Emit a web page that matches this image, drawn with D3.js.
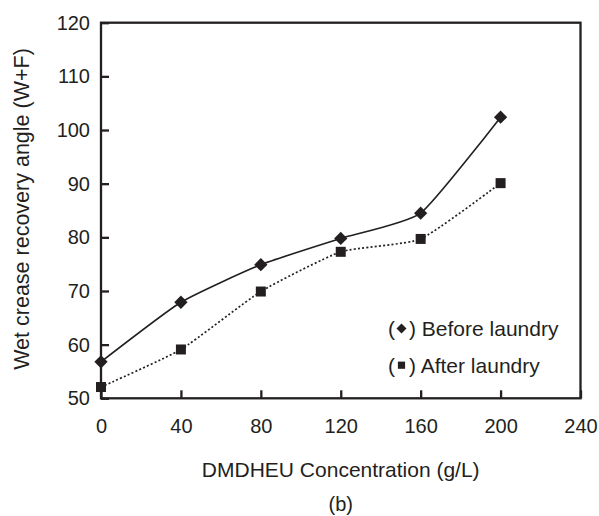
<!DOCTYPE html>
<html><head><meta charset="utf-8">
<script src="https://cdn.jsdelivr.net/npm/d3@7"></script>
<style>body{margin:0;background:#fff}svg{display:block}</style>
</head><body>
<svg id="c" width="599" height="516"></svg>
<script>
const concentration = [0, 40, 80, 120, 160, 200];
const beforeLaundry = [56.8, 67.9, 74.9, 79.8, 84.5, 102.4];
const afterLaundry  = [52.1, 59.1, 69.9, 77.3, 79.7, 90.1];
const xTicks = [0, 40, 80, 120, 160, 200, 240];
const yTicks = [50, 60, 70, 80, 90, 100, 110, 120];
const seriesNames = ["Before laundry", "After laundry"];

const ink = "#231f20";
const font = "'Liberation Sans', Arial, sans-serif";
const svg = d3.select("#c");
const L = 101, R = 580.5, T = 22.7, B = 398.3;
const x = d3.scaleLinear().domain([0, 240]).range([L, R]);
const y = d3.scaleLinear().domain([50, 120]).range([B, T]);

svg.append("rect").attr("x", L).attr("y", T).attr("width", R - L).attr("height", B - T)
  .attr("fill", "none").attr("stroke", ink).attr("stroke-width", 2.3);

const yAxis = svg.append("g").attr("transform", `translate(${L},0)`)
  .call(d3.axisLeft(y).tickValues(yTicks).tickSize(-8).tickPadding(11).tickFormat(d3.format("d")));
const xAxis = svg.append("g").attr("transform", `translate(0,${B})`)
  .call(d3.axisBottom(x).tickValues(xTicks).tickSize(-8).tickPadding(21).tickFormat(d3.format("d")));
[yAxis, xAxis].forEach(g => {
  g.select(".domain").remove();
  g.selectAll(".tick line").attr("stroke", ink).attr("stroke-width", 2.3);
  g.selectAll(".tick text").attr("fill", ink).style("font-family", font).style("font-size", "20px");
});

const line = d3.line().x((d, i) => x(concentration[i])).y(d => y(d)).curve(d3.curveCardinal.tension(0.5));
svg.append("path").datum(beforeLaundry).attr("d", line)
  .attr("fill", "none").attr("stroke", ink).attr("stroke-width", 1.6);
svg.append("path").datum(afterLaundry).attr("d", line)
  .attr("fill", "none").attr("stroke", ink).attr("stroke-width", 1.7).attr("stroke-dasharray", "2,2.2");

const diamond = d3.symbol().type(d3.symbolSquare).size(88);
const square = d3.symbol().type(d3.symbolSquare).size(100);
svg.append("g").selectAll("path").data(beforeLaundry).join("path")
  .attr("transform", (d, i) => `translate(${x(concentration[i])},${y(d)}) rotate(45)`)
  .attr("d", diamond).attr("fill", ink);
svg.append("g").selectAll("path").data(afterLaundry).join("path")
  .attr("transform", (d, i) => `translate(${x(concentration[i])},${y(d)})`)
  .attr("d", square).attr("fill", ink);

const legendY = [336, 372.7];
const legendSym = [d3.symbol().type(d3.symbolSquare).size(50), d3.symbol().type(d3.symbolSquare).size(52)];
seriesNames.forEach((name, i) => {
  const g = svg.append("g");
  g.append("text").attr("x", 388).attr("y", legendY[i]).text("(")
    .attr("fill", ink).style("font-family", font).style("font-size", "21px");
  g.append("path").attr("d", legendSym[i])
    .attr("transform", `translate(401.5,${legendY[i] - 7.5})${i === 0 ? " rotate(45)" : ""}`).attr("fill", ink);
  g.append("text").attr("x", 409).attr("y", legendY[i]).text(") " + name)
    .attr("fill", ink).style("font-family", font).style("font-size", "21px");
});

svg.append("text").attr("x", (L + R) / 2).attr("y", 476.7).attr("text-anchor", "middle")
  .text("DMDHEU Concentration (g/L)").attr("fill", ink).style("font-family", font).style("font-size", "21px");
svg.append("text").attr("x", (L + R) / 2).attr("y", 511).attr("text-anchor", "middle")
  .text("(b)").attr("fill", ink).style("font-family", font).style("font-size", "20px");
svg.append("text").attr("transform", `translate(29,${(50 + 368) / 2}) rotate(-90)`).attr("text-anchor", "middle")
  .text("Wet crease recovery angle (W+F)").attr("fill", ink).style("font-family", font).style("font-size", "21.5px");
</script>
</body></html>
